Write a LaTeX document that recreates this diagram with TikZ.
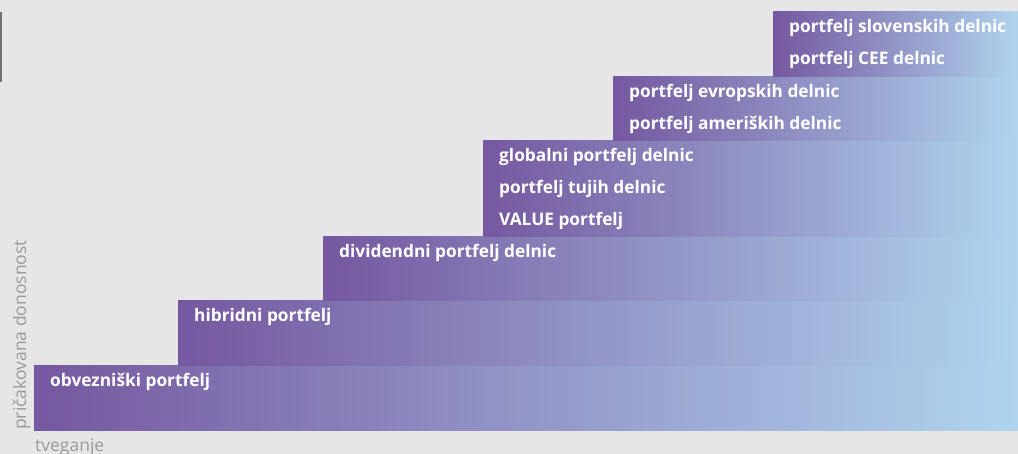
\documentclass[tikz,border=0pt]{standalone}
\usepackage{fontspec}
\setmainfont{Open Sans}
\usetikzlibrary{positioning}
\definecolor{bgrey}{HTML}{E6E6E6}
\definecolor{lpurple}{HTML}{7558A0}
\definecolor{mblue}{HTML}{8E90C7}
\definecolor{lblue}{HTML}{B0D4EE}
\definecolor{tgrey}{HTML}{9A9A9A}
\definecolor{egrey}{HTML}{737373}
\tikzset{stepbar/.style = {shape = rectangle,
                           anchor = north west,
                           inner sep = 0pt,
                           left color = lpurple,
                           middle color = mblue,
                           right color = lblue,
                           draw = none},
         blabel/.style = {anchor = base west,
                          inner sep = 0pt,
                          text = white,
                          font = \fontsize{17.3}{20}\selectfont\bfseries},
         alabel/.style = {anchor = base west,
                          inner sep = 0pt,
                          text = tgrey,
                          font = \fontsize{17.5}{20}\selectfont}}

\begin{document}
\begin{tikzpicture}[x=1pt,y=-1pt]
		\fill[bgrey] (0,0) rectangle (1018,454);
		\useasboundingbox (0,0) rectangle (1018,454);
		\fill[egrey] (0,12) rectangle (2,82);
		\node[stepbar, minimum width = 984pt, minimum height = 65pt] (b1) at (34,365) {};
		\node[stepbar, minimum width = 840pt, minimum height = 65pt] (b2) at (178,300) {};
		\node[stepbar, minimum width = 695pt, minimum height = 64pt] (b3) at (323,236) {};
		\node[stepbar, minimum width = 535pt, minimum height = 96pt] (b4) at (483,140) {};
		\node[stepbar, minimum width = 405pt, minimum height = 64pt] (b5) at (613,76) {};
		\node[stepbar, minimum width = 245pt, minimum height = 65pt] (b6) at (773,11) {};
		\node[blabel] (l1) at ([shift={(16,22)}]b1.north west) {obvezniški portfelj};
		\node[blabel] (l2) at ([shift={(16,22)}]b2.north west) {hibridni portfelj};
		\node[blabel] (l3) at ([shift={(16,22)}]b3.north west) {dividendni portfelj delnic};
		\node[blabel] (l4a) at ([shift={(16,22)}]b4.north west) {globalni portfelj delnic};
		\node[blabel] (l4b) at ([yshift=-32pt]l4a.base west) {portfelj tujih delnic};
		\node[blabel] (l4c) at ([yshift=-32pt]l4b.base west) {VALUE portfelj};
		\node[blabel] (l5a) at ([shift={(16,22)}]b5.north west) {portfelj evropskih delnic};
		\node[blabel] (l5b) at ([yshift=-32pt]l5a.base west) {portfelj ameriških delnic};
		\node[blabel] (l6a) at ([shift={(16,22)}]b6.north west) {portfelj slovenskih delnic};
		\node[blabel] (l6b) at ([yshift=-32pt]l6a.base west) {portfelj CEE delnic};
		\node[alabel, rotate = 90] (yax) at (26,430) {pričakovana donosnost};
		\node[alabel] (xax) at (35,451) {tveganje};
	\end{tikzpicture}
\end{document}
